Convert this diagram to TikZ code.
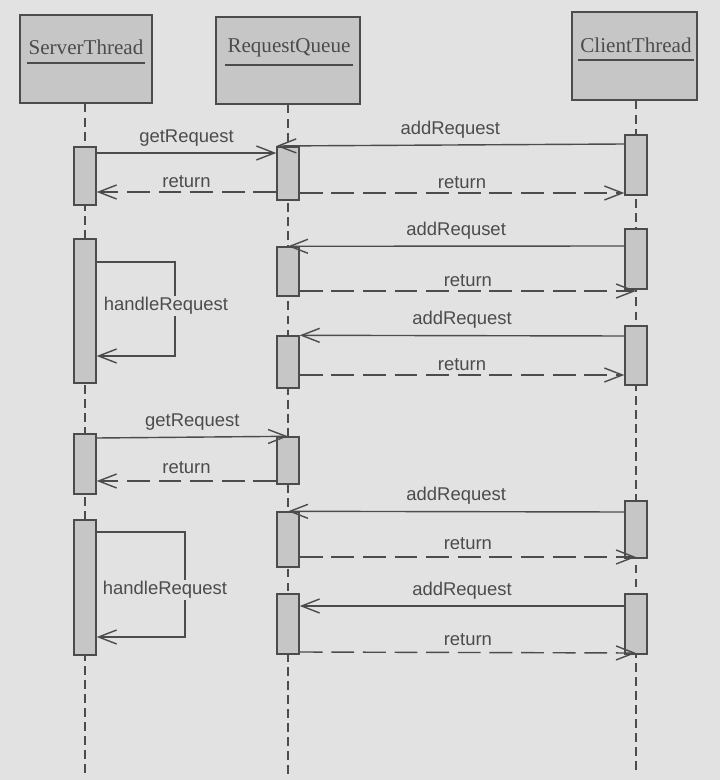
\documentclass[tikz,border=0pt]{standalone}
\usepackage{fontspec}
\setmainfont{Liberation Serif}
\setsansfont{Liberation Sans}
\usepackage{tikz}
\usetikzlibrary{arrows.meta, positioning, fit}

\definecolor{paper}{HTML}{E2E2E2}
\definecolor{boxgray}{HTML}{C6C6C6}
\definecolor{ink}{HTML}{4C4C4C}

\begin{document}
\begin{tikzpicture}[x=0.02cm, y=-0.02cm,
		obj/.style={draw=ink, fill=boxgray, inner sep=0pt, line width=0.8pt},
		act/.style={draw=ink, fill=boxgray, inner sep=0pt, line width=0.8pt},
		objname/.style={font=\fontsize{12}{14}\selectfont, text=ink, inner sep=1pt},
		life/.style={draw=ink, line width=0.6pt, dash pattern=on 5pt off 3pt},
		call/.style={draw=ink, line width=0.8pt, -{Straight Barb[length=3.6mm,width=2.8mm]}},
		ret/.style={call, dash pattern=on 13pt off 5pt},
		lbl/.style={font=\sffamily\fontsize{10.5}{12}\selectfont, text=ink, inner sep=1pt}]
		\fill[paper] (0,0) rectangle (720,780);
		\useasboundingbox (0,0) rectangle (720,780);
		
		% objects
		\node[obj, fit={(20,15) (152,103)}] (server) {};
		\node[obj, fit={(216,17) (360,104)}] (queue) {};
		\node[obj, fit={(572,12) (697,100)}] (client) {};
		\node[objname] (servername) at (86,47) {ServerThread};
		\node[objname] (queuename) at (289,48) {RequestQueue};
		\node[objname] (clientname) at (636,45) {ClientThread};
		\draw[ink, line width=0.9pt] (servername.west |- 0,63) -- (servername.east |- 0,63);
		\draw[ink, line width=0.9pt] (queuename.west |- 0,65) -- (queuename.east |- 0,65);
		\draw[ink, line width=0.9pt] (clientname.west |- 0,60) -- (clientname.east |- 0,60);
		
		% lifelines
		\coordinate (serverend) at (85,775);
		\coordinate (queueend) at (288,775);
		\coordinate (clientend) at (636,775);
		\draw[life] (server.south -| serverend) -- (serverend);
		\draw[life] (queue.south -| queueend) -- (queueend);
		\draw[life] (client.south -| clientend) -- (clientend);
		
		% activations
		\node[act, fit={(74,147) (96,205)}] (sa1) {};
		\node[act, fit={(74,239) (96,383)}] (sa2) {};
		\node[act, fit={(74,434) (96,494)}] (sa3) {};
		\node[act, fit={(74,520) (96,655)}] (sa4) {};
		\node[act, fit={(277,147) (299,200)}] (qa1) {};
		\node[act, fit={(277,247) (299,296)}] (qa2) {};
		\node[act, fit={(277,336) (299,388)}] (qa3) {};
		\node[act, fit={(277,437) (299,484)}] (qa4) {};
		\node[act, fit={(277,512) (299,567)}] (qa5) {};
		\node[act, fit={(277,594) (299,654)}] (qa6) {};
		\node[act, fit={(625,135) (647,195)}] (ca1) {};
		\node[act, fit={(625,229) (647,289)}] (ca2) {};
		\node[act, fit={(625,326) (647,385)}] (ca3) {};
		\node[act, fit={(625,501) (647,558)}] (ca4) {};
		\node[act, fit={(625,594) (647,654)}] (ca5) {};
		
		% messages
		\draw[call] (sa1.east |- 0,153) -- node[lbl, above=2.5pt] {getRequest} (qa1.west |- 0,153);
		\draw[call] (ca1.west |- 0,144) -- node[lbl, above=2.5pt] {addRequest} (qa1.north west |- 0,146);
		\draw[ret] (qa1.west |- 0,192) -- node[lbl, above=1pt] {return} (sa1.east |- 0,192);
		\draw[ret] (qa1.east |- 0,193) -- node[lbl, above=1pt] {return} (ca1.west |- 0,193);
		
		\draw[call] (ca2.west |- 0,246) -- node[lbl, above=2.5pt] {addRequset} (qa2.north);
		\draw[ret] (qa2.east |- 0,291) -- node[lbl, above=1pt] {return} (ca2.south |- 0,291);
		\draw[call] (ca3.west |- 0,336) -- node[lbl, above=2.5pt] {addRequest} (qa3.north east);
		\draw[ret] (qa3.east |- 0,375) -- node[lbl, above=1pt] {return} (ca3.west |- 0,375);
		
		\draw[call] (sa3.east |- 0,438) -- node[lbl, above=2.5pt] {getRequest} (qa4.north);
		\draw[ret] (qa4.west |- 0,481) -- node[lbl, above=2.5pt] {return} (sa3.east |- 0,481);
		
		\draw[call] (ca4.west |- 0,512) -- node[lbl, above=2.5pt] {addRequest} (qa5.north);
		\draw[ret] (qa5.east |- 0,557) -- node[lbl, above=2.5pt] {return} (ca4.south |- 0,557);
		\draw[call] (ca5.west |- 0,606) -- node[lbl, above=2.5pt] {addRequest} (qa6.east |- 0,606);
		\draw[ret] (qa6.east |- 0,652) -- node[lbl, above=2.5pt] {return} (ca5.south |- 0,653);
		
		% self calls
		\coordinate (loop1) at (175,262);
		\coordinate (loop2) at (185,532);
		\draw[call] (sa2.east |- loop1) -- (loop1) |- (sa2.east |- 0,356);
		\draw[call] (sa4.east |- loop2) -- (loop2) |- (sa4.east |- 0,637);
		\node[lbl, fill=paper] (handle1) at (166,306) {handleRequest};
		\node[lbl, fill=paper] (handle2) at (165,590) {handleRequest};
\end{tikzpicture}
\end{document}
